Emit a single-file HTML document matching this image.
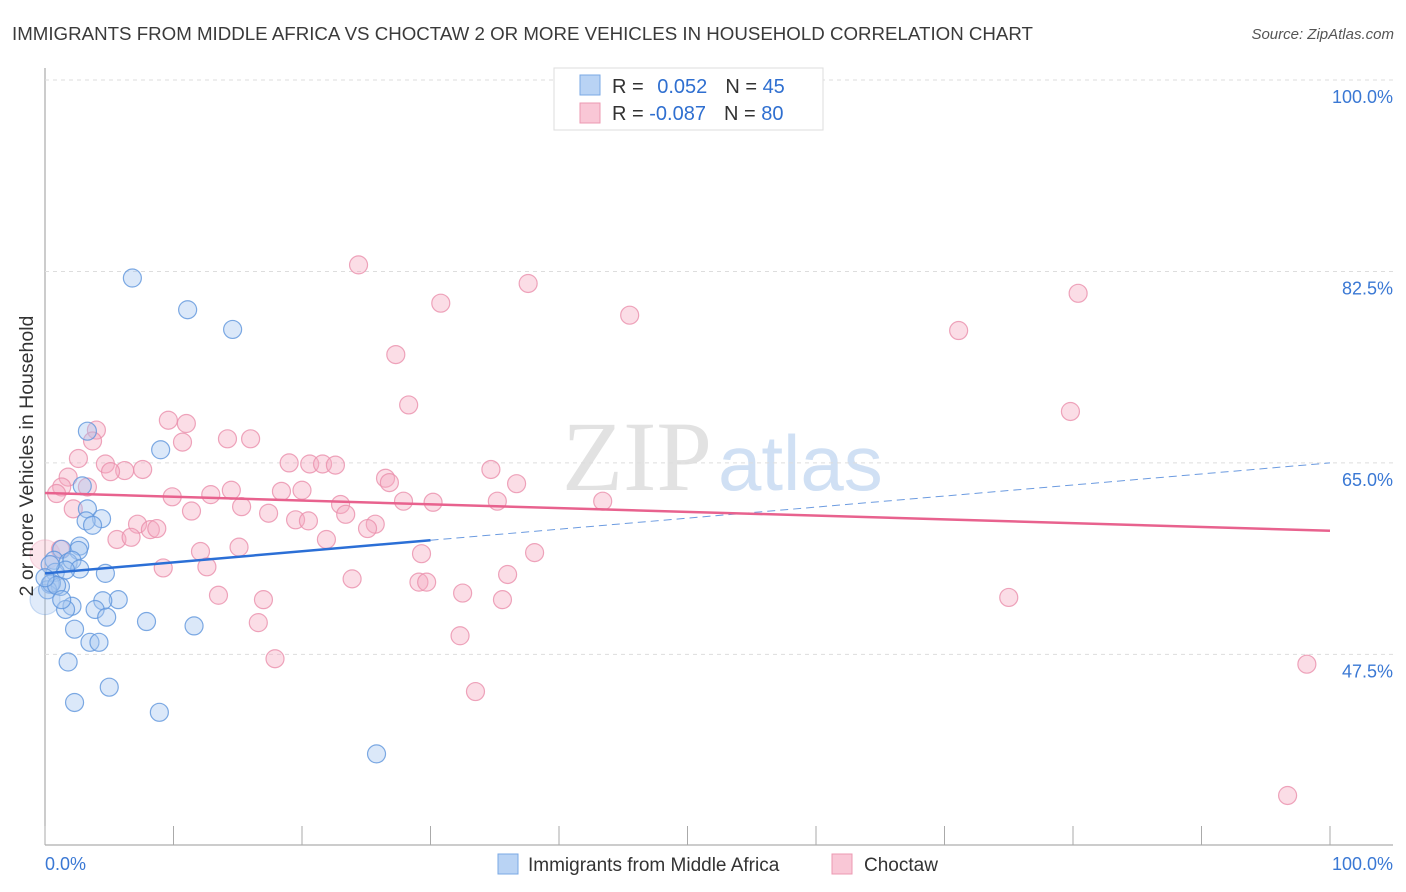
<!DOCTYPE html>
<html><head><meta charset="utf-8"><style>
body{margin:0;background:#fff;font-family:"Liberation Sans",sans-serif}
svg{display:block}
</style></head><body>
<svg id="c" width="1406" height="892">
<text x="12" y="40" font-size="18" fill="#3a3a3a" textLength="1021" lengthAdjust="spacingAndGlyphs">IMMIGRANTS FROM MIDDLE AFRICA VS CHOCTAW 2 OR MORE VEHICLES IN HOUSEHOLD CORRELATION CHART</text>
<text x="1394" y="39" font-size="15" fill="#555" font-style="italic" text-anchor="end">Source: ZipAtlas.com</text>
<text x="712" y="490" font-size="100" fill="#e2e2e2" font-family="Liberation Serif,serif" text-anchor="end">ZIP</text>
<text x="718" y="490" font-size="78" fill="#d0e0f4">atlas</text>
<g id="grid"></g><g id="pts"></g><g id="lines"></g>
<g>
<rect x="554" y="68" width="269" height="62" fill="#fff" stroke="#ddd"/>
<rect x="580" y="75" width="20" height="20" fill="#b9d3f4" stroke="#7aa8e4"/>
<rect x="580" y="103" width="20" height="20" fill="#f9c7d6" stroke="#ec98b2"/>
<text x="612" y="93" font-size="20" fill="#333">R = <tspan fill="#2f6fd0" dx="8">0.052</tspan><tspan dx="18" fill="#333">N = </tspan><tspan fill="#2f6fd0">45</tspan></text>
<text x="612" y="120" font-size="20" fill="#333">R = <tspan fill="#2f6fd0">-0.087</tspan><tspan dx="18" fill="#333">N = </tspan><tspan fill="#2f6fd0">80</tspan></text>
</g>
<text x="33" y="456" font-size="19.5" fill="#333" transform="rotate(-90 33 456)" text-anchor="middle">2 or more Vehicles in Household</text>
<text x="45" y="870" font-size="18" fill="#3a78d4">0.0%</text>
<text x="1393" y="870" font-size="18" fill="#3a78d4" text-anchor="end">100.0%</text>
<g>
<rect x="498" y="854" width="20" height="20" fill="#b9d3f4" stroke="#7aa8e4"/>
<text x="528" y="871" font-size="19" fill="#333">Immigrants from Middle Africa</text>
<rect x="832" y="854" width="20" height="20" fill="#f9c7d6" stroke="#ec98b2"/>
<text x="864" y="871" font-size="19" fill="#333">Choctaw</text>
</g>
</svg>
<script>
const yTicks=[100,82.5,65,47.5];
const yTickLabels=["100.0%","82.5%","65.0%","47.5%"];
const blueX=[6.8,11.1,14.6,9.0,3.3,2.9,3.3,4.4,3.2,3.7,2.7,2.6,1.3,0.7,1.8,2.1,0.8,2.7,4.7,0.4,1.2,0.2,0.5,5.7,4.5,2.1,1.6,3.9,4.8,7.9,11.6,2.3,3.5,4.2,1.8,5.0,2.3,8.9,25.8,0,0.9,1.6,0.4,0,1.3];
const blueY=[81.9,79.0,77.2,66.2,67.9,62.9,60.8,59.9,59.7,59.3,57.4,57.0,57.1,56.1,55.9,56.1,55.0,55.3,54.9,53.9,53.7,53.4,54.0,52.5,52.4,51.9,51.6,51.6,50.9,50.5,50.1,49.8,48.6,48.6,46.8,44.5,43.1,42.2,38.4,52.5,53.8,55.2,55.7,54.5,52.5];
const pinkX=[24.4,37.6,30.8,80.4,45.5,71.1,27.3,28.3,79.8,9.6,11.0,4.0,3.7,10.7,14.2,16.0,2.6,4.7,19.0,20.6,21.6,22.6,7.6,6.2,5.1,1.8,26.5,34.7,26.8,36.7,3.3,1.3,0.9,9.9,12.9,14.5,18.4,20.0,27.9,30.2,35.2,43.4,2.2,11.4,15.3,17.4,23.0,23.4,19.5,20.5,7.2,8.2,8.7,25.7,25.1,5.6,6.7,21.9,15.1,12.1,1.2,29.3,38.1,9.2,12.6,23.9,36.0,29.1,29.7,13.5,32.5,17.0,35.6,75.0,16.6,32.3,17.9,98.2,33.5,96.7,0];
const pinkY=[83.1,81.4,79.6,80.5,78.5,77.1,74.9,70.3,69.7,68.9,68.6,68.0,67.0,66.9,67.2,67.2,65.4,64.9,65.0,64.9,64.9,64.8,64.4,64.3,64.2,63.7,63.6,64.4,63.2,63.1,62.8,62.8,62.2,61.9,62.1,62.5,62.4,62.5,61.5,61.4,61.5,61.5,60.8,60.6,61.0,60.4,61.2,60.3,59.8,59.7,59.4,58.9,59.0,59.4,59.0,58.0,58.2,58.0,57.3,56.9,57.1,56.7,56.8,55.4,55.5,54.4,54.8,54.1,54.1,52.9,53.1,52.5,52.5,52.7,50.4,49.2,47.1,46.6,44.1,34.6,56.6];
const blueTrend=[54.9,65.0];
const pinkTrend=[62.25,58.8];
const NS="http://www.w3.org/2000/svg";
const xs=v=>45+v*12.85, ys=v=>80+(100-v)*10.94;
function mk(t,a,p){const e=document.createElementNS(NS,t);for(const k in a)e.setAttribute(k,a[k]);p.appendChild(e);return e;}
const g=document.getElementById('grid');
let ax=mk('line',{x1:45,y1:68,x2:45,y2:845,stroke:'#999','stroke-width':1},g);


let bx=mk('line',{x1:45,y1:845,x2:1393,y2:845,stroke:'#999','stroke-width':1},g);


for(let i=0;i<=10;i++){const t=mk('line',{x1:xs(i*10),x2:xs(i*10),y1:826,y2:845,stroke:'#aaa'},g);

}
yTicks.forEach((v,i)=>{const l=mk('line',{x1:45,x2:1393,y1:ys(v),y2:ys(v),stroke:'#ddd','stroke-dasharray':'4,4'},g);


const t=mk('text',{x:1393,y:ys(v)+23,'font-size':18,fill:'#3a78d4','text-anchor':'end'},g);t.textContent=yTickLabels[i];

});
const p=document.getElementById('pts');
function dots(X,Y,fill,stroke,name,bigOp){X.forEach((x,i)=>{const big=(x===0&&(Y[i]===52.5||Y[i]===56.6));
const c=mk('circle',{cx:xs(x),cy:ys(Y[i]),r:big?15:9,fill:fill,'fill-opacity':big?bigOp:0.4,stroke:stroke,'stroke-opacity':big?0.3:0.8,'stroke-width':1.2},p);

});}
dots(pinkX,pinkY,'#f4a9c0','#ea8eab','point-choctaw',0.3);
dots(blueX,blueY,'#a6c6f0','#5e95dc','point-middle-africa',0.35);
const L=document.getElementById('lines');
const bt=v=>blueTrend[0]+(blueTrend[1]-blueTrend[0])*v/100;
let b1=mk('line',{x1:xs(0),y1:ys(bt(0)),x2:xs(30),y2:ys(bt(30)),stroke:'#2b6fd6','stroke-width':2.5},L);


let b2=mk('line',{x1:xs(30),y1:ys(bt(30)),x2:xs(100),y2:ys(bt(100)),stroke:'#6c9be0','stroke-width':1,'stroke-dasharray':'8,5'},L);


let p1=mk('line',{x1:xs(0),y1:ys(pinkTrend[0]),x2:xs(100),y2:ys(pinkTrend[1]),stroke:'#e8628e','stroke-width':2.5},L);


</script>
</body></html>
